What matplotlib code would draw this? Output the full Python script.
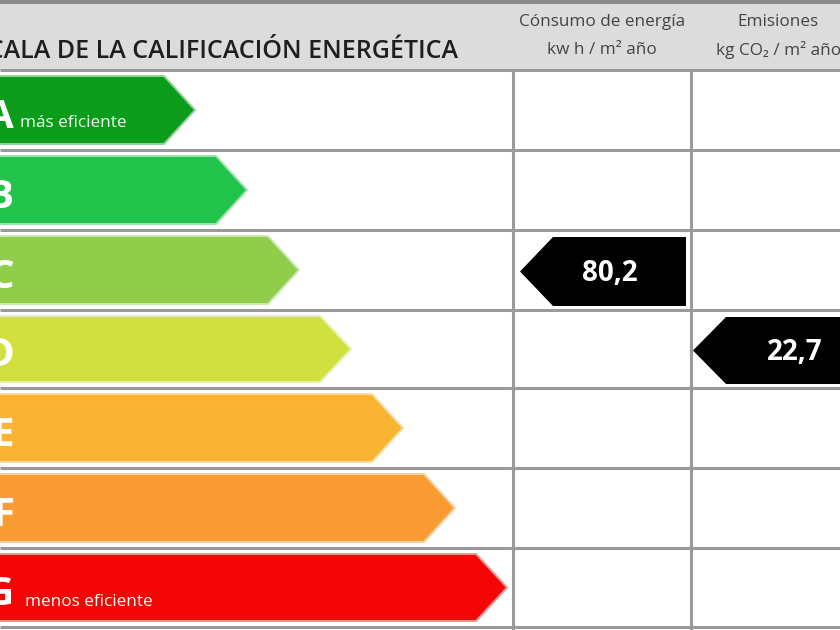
import matplotlib
matplotlib.use("Agg")
import matplotlib.pyplot as plt
from matplotlib.patches import Polygon, Rectangle
from matplotlib.colors import to_rgb

# ---- data ----
categories = ['A', 'B', 'C', 'D', 'E', 'F', 'G']
cat_colors = ['#0c9c1c', '#22c34a', '#8fcd4a', '#d0e03f', '#f8b432', '#f89c33', '#f50606']
extreme_labels = {'A': 'más eficiente', 'G': 'menos eficiente'}
title = 'ESCALA DE LA CALIFICACIÓN ENERGÉTICA'
col_headers = [('Cónsumo de energía', 'kw h / m² año'), ('Emisiones', 'kg CO₂ / m² año')]
rating_values = [80.2, 22.7]
rating_classes = ['C', 'D']

FONT = ['Open Sans', 'DejaVu Sans']
W, H = 840, 630
fig = plt.figure(figsize=(W / 100, H / 100), dpi=100)
ax = fig.add_axes([0, 0, 1, 1])
ax.set_xlim(0, W)
ax.set_ylim(H, 0)
ax.axis('off')

# layout
header_bottom = 70
row_lines = [70, 150, 230, 310, 388, 468, 548, 627]
col_x = [513, 691]
grid_c = '#9a9a9a'


def tint(c, f=0.55):
    r, g, b = to_rgb(c)
    return (r + (1 - r) * f, g + (1 - g) * f, b + (1 - b) * f)


# header background
ax.add_patch(Rectangle((0, 0), W, header_bottom, facecolor='#dcdcdc', edgecolor='none', zorder=0))
ax.add_patch(Rectangle((0, 0), W, 4, facecolor='#8a8a8a', edgecolor='none', zorder=1))

# grid
for y in row_lines:
    ax.plot([0, W], [y, y], color=grid_c, lw=2.2, zorder=1, solid_capstyle='butt')
for x in col_x:
    ax.plot([x, x], [header_bottom, H], color=grid_c, lw=2.2, zorder=1, solid_capstyle='butt')

# title
ax.text(458, 52, title, ha='right', va='center', fontsize=18, color='#1e1e1e',
        family=FONT, fontweight='semibold', zorder=5)

# column headers
ax.text(602, 22, col_headers[0][0], ha='center', va='center', fontsize=12.3, color='#444444', family=FONT, zorder=5)
ax.text(602, 50, col_headers[0][1], ha='center', va='center', fontsize=12.3, color='#444444', family=FONT, zorder=5)
ax.text(778, 22, col_headers[1][0], ha='center', va='center', fontsize=12.3, color='#444444', family=FONT, zorder=5)
ax.text(716, 50, col_headers[1][1], ha='left', va='center', fontsize=12.3, color='#444444', family=FONT, zorder=5)

# category arrows
tip_depth = 31
for i, (cat, col) in enumerate(zip(categories, cat_colors)):
    top = row_lines[i] + 6
    bot = row_lines[i + 1] - 6
    mid = (top + bot) / 2
    tip = 195 + 52 * i
    poly = Polygon([(-5, top), (tip - tip_depth, top), (tip, mid), (tip - tip_depth, bot), (-5, bot)],
                   closed=True, facecolor=col, edgecolor=tint(col), lw=1.4, joinstyle='miter', zorder=2)
    ax.add_patch(poly)
    ax.text(14, mid + 7, cat, ha='right', va='center', fontsize=29, color='white',
            fontweight='bold', family=FONT, zorder=3)
    if cat in extreme_labels:
        ax.text(20 if cat == 'A' else 25, mid + 17 if cat == 'A' else mid + 18, extreme_labels[cat],
                ha='left', va='baseline', fontsize=12.3, color='#f4fff0', family=FONT, zorder=3)

# rating pointers
for j, (val, cls) in enumerate(zip(rating_values, rating_classes)):
    r = categories.index(cls)
    top = row_lines[r] + 7
    bot = row_lines[r + 1] - 4
    mid = (top + bot) / 2
    left = col_x[j] + 7 if j == 0 else col_x[j] + 2
    right = col_x[j + 1] - 5 if j + 1 < len(col_x) else W + 5
    depth = 33
    poly = Polygon([(left, mid), (left + depth, top), (right, top), (right, bot), (left + depth, bot)],
                   closed=True, facecolor='black', edgecolor='none', zorder=4)
    ax.add_patch(poly)
    label = f"{val:.1f}".replace('.', ',')
    cx = 610 if j == 0 else 795
    ax.text(cx, mid + 2, label, ha='center', va='center', fontsize=20, color='white',
            fontweight='bold', family=FONT, zorder=5)

fig.savefig('out.png', dpi=100, facecolor='white')
